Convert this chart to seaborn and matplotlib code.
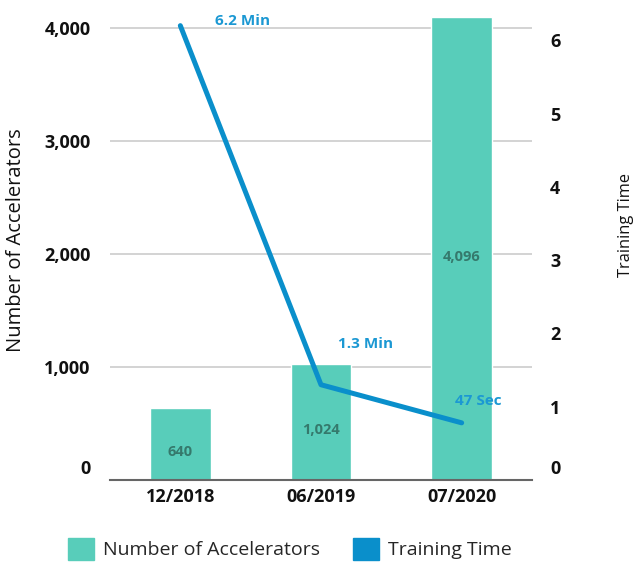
import numpy as np
import pandas as pd
import matplotlib
matplotlib.use("Agg")
import matplotlib.pyplot as plt
import matplotlib.transforms as mtransforms
from matplotlib.patches import Patch
import seaborn as sns

# data
dates = ["12/2018", "06/2019", "07/2020"]
accelerators = [640, 1024, 4096]
train_minutes = [6.2, 1.3, 0.78]
time_labels = ["6.2 Min", "1.3 Min", "47 Sec"]
left_ticks = [0, 1000, 2000, 3000, 4000]
right_ticks = [0, 1, 2, 3, 4, 5, 6]

bar_color = "#58cdba"
line_color = "#0a8fcb"
txt = "#111111"

sns.set_theme(style="white")
plt.rcParams["font.family"] = ["Open Sans", "DejaVu Sans"]

df = pd.DataFrame({"date": dates, "acc": accelerators, "mins": train_minutes})

fig = plt.figure(figsize=(6.36, 5.63), dpi=100)
ax = fig.add_axes([110 / 636, 1 - 480 / 563, 422 / 636, 469 / 563])
ax2 = ax.twinx()

sns.barplot(data=df, x="date", y="acc", color=bar_color, width=0.43,
            saturation=1, ax=ax, zorder=2)
ax.bar_label(ax.containers[0], labels=[f"{v:,}" for v in accelerators],
             label_type="center", color="#35796c", fontsize=10.5,
             fontweight="bold", padding=-6)

sns.pointplot(data=df, x="date", y="mins", color=line_color, markers="",
              linewidth=3.6, ax=ax2, errorbar=None)
for ln in ax2.lines:
    ln.set_solid_capstyle("round")
    ln.set_solid_joinstyle("round")

# annotations next to the line points
offsets = [(62, 5), (45, 41), (17, 22)]
for i, (lab, off) in enumerate(zip(time_labels, offsets)):
    ax2.annotate(lab, (i, train_minutes[i]), xytext=off,
                 textcoords="offset pixels", ha="center", va="center",
                 color="#1b98d3", fontsize=11, fontweight="bold")

ax.set_xlim(-0.5, 2.5)
ax.set_ylim(0, 4150)
ax2.set_ylim(0, 6.4)
ax.set_yticks(left_ticks)
ax.set_yticklabels([f"{t:,}" for t in left_ticks])
ax2.set_yticks(right_ticks)
ax2.set_yticklabels([str(t) for t in right_ticks])

ax.yaxis.grid(True, color="#cccccc", linewidth=1.2, zorder=0)
ax.set_axisbelow(True)
ax2.grid(False)

for a in (ax, ax2):
    for s in a.spines.values():
        s.set_visible(False)
ax.spines["bottom"].set_visible(True)
ax.spines["bottom"].set_color("#666666")
ax.spines["bottom"].set_linewidth(1.5)

ax.set_xlabel("")
ax.set_ylabel("")
ax2.set_ylabel("")
ax.tick_params(axis="x", length=0, pad=6, labelsize=13, labelcolor=txt)
ax.set_xticks([-0.5, 0.5, 1.5, 2.5], minor=True)
ax.tick_params(axis="x", which="minor", length=8, color="#e6e6e6", width=1)
ax.tick_params(axis="y", length=0, pad=14, labelsize=13, labelcolor=txt)
ax2.tick_params(axis="y", length=0, pad=13, labelsize=13, labelcolor=txt)
for lbl in ax.get_xticklabels() + ax.get_yticklabels() + ax2.get_yticklabels():
    lbl.set_fontweight("bold")

# zero labels sit a bit above the baseline in the original
shift = mtransforms.ScaledTranslation(0, 13 / 100, fig.dpi_scale_trans)
for a in (ax, ax2):
    t0 = a.yaxis.get_major_ticks()[0]
    t0.label1.set_transform(t0.label1.get_transform() + shift)
    t0.label2.set_transform(t0.label2.get_transform() + shift)

fig.text(16 / 636, 1 - 240 / 563, "Number of Accelerators", rotation=90,
         ha="center", va="center", fontsize=14.5, color=txt)
fig.text(626 / 636, 1 - 225 / 563, "Training Time", rotation=90,
         ha="center", va="center", fontsize=11.8, color=txt)

handles = [Patch(color=bar_color, label="Number of Accelerators"),
           Patch(color=line_color, label="Training Time")]
fig.legend(handles=handles, loc="center", bbox_to_anchor=(290 / 636, 1 - 549 / 563),
           ncol=2, frameon=False, handlelength=1.35, handleheight=1.35,
           handletextpad=0.45, columnspacing=1.7, borderaxespad=0,
           prop={"size": 14})

fig.savefig("out.png", dpi=100)
